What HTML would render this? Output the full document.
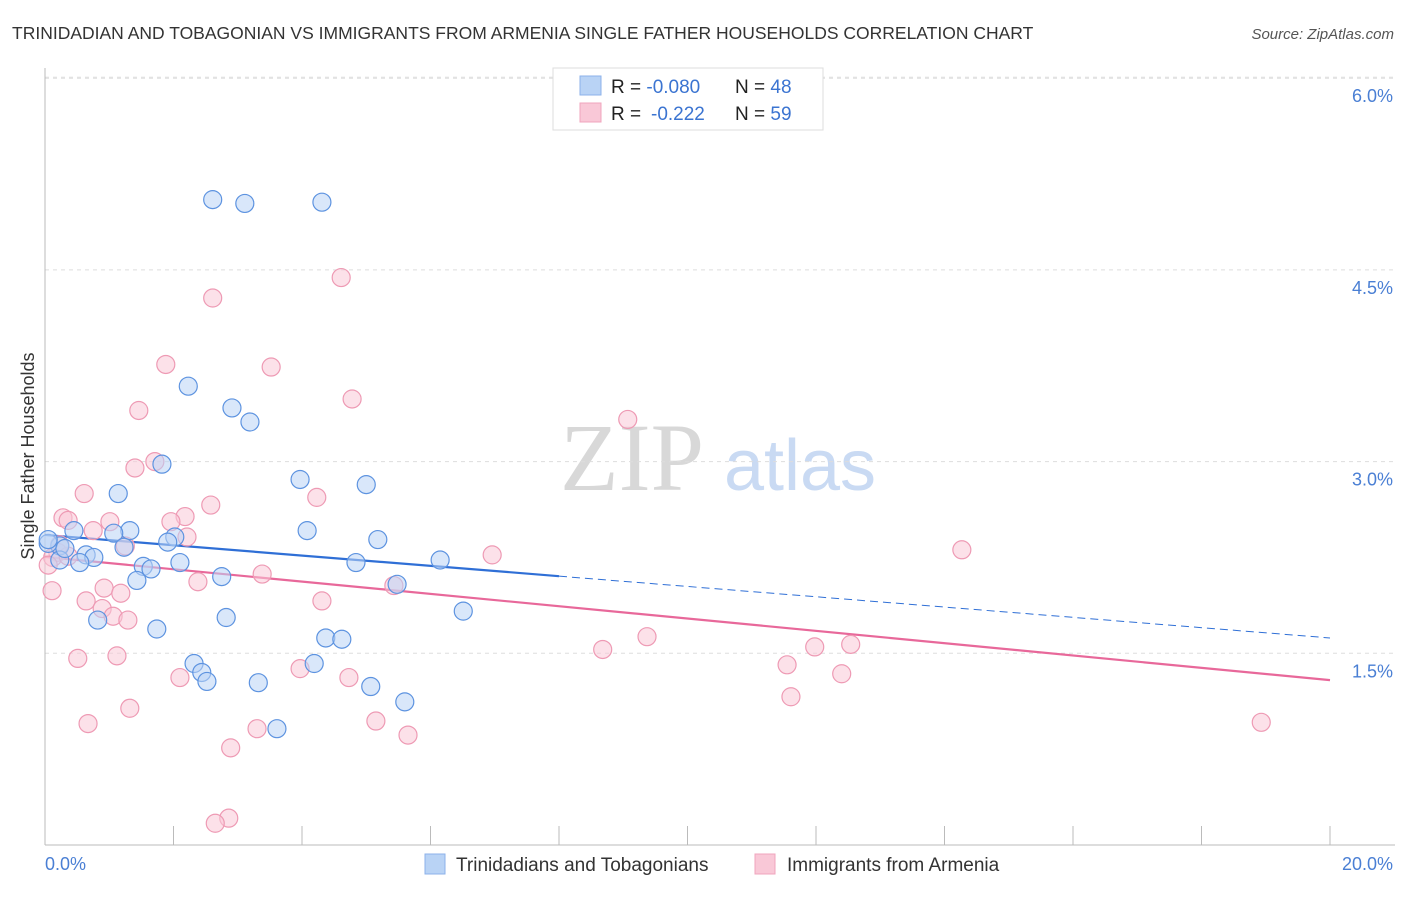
<!DOCTYPE html>
<html><head><meta charset="utf-8"><style>
body{margin:0;background:#fff;font-family:"Liberation Sans",sans-serif;}
svg text{font-family:"Liberation Sans",sans-serif;}
</style></head><body>
<svg width="1406" height="892" xmlns="http://www.w3.org/2000/svg" id="chart">
<text x="12" y="39" font-size="17.5" fill="#333">TRINIDADIAN AND TOBAGONIAN VS IMMIGRANTS FROM ARMENIA SINGLE FATHER HOUSEHOLDS CORRELATION CHART</text>
<text x="1394" y="39" font-size="15" fill="#555" font-style="italic" text-anchor="end">Source: ZipAtlas.com</text>
<g>
<text x="632" y="490" font-size="96" fill="#d8d8d8" text-anchor="middle" font-family="Liberation Serif" style="font-family:'Liberation Serif',serif">ZIP</text>
<text x="800" y="490" font-size="72" fill="#c9daf3" text-anchor="middle">atlas</text>
</g>
<g id="grid"></g>
<g id="axes"></g>
<g id="lines"></g>
<g id="pts"></g>
<text transform="translate(34,456) rotate(-90)" font-size="18" fill="#333" text-anchor="middle">Single Father Households</text>
<g>
<rect x="553" y="68" width="270" height="62" fill="#fff" stroke="#ddd"/>
<rect x="580" y="76" width="21" height="19" fill="#b9d3f5" stroke="#8cb2ea"/>
<rect x="580" y="103" width="21" height="19" fill="#f9c8d7" stroke="#f0a5bd"/>
<text x="611" y="93" font-size="19" fill="#222">R = <tspan fill="#3b74d1">-0.080</tspan><tspan x="735">N = </tspan><tspan fill="#3b74d1">48</tspan></text>
<text x="611" y="120" font-size="19" fill="#222">R = <tspan x="651" fill="#3b74d1">-0.222</tspan><tspan x="735">N = </tspan><tspan fill="#3b74d1">59</tspan></text>
</g>
<g>
<rect x="425" y="854" width="20" height="20" fill="#b9d3f5" stroke="#8cb2ea"/>
<text x="456" y="871" font-size="19" fill="#333">Trinidadians and Tobagonians</text>
<rect x="755" y="854" width="20" height="20" fill="#f9c8d7" stroke="#f0a5bd"/>
<text x="787" y="871" font-size="19" fill="#333">Immigrants from Armenia</text>
</g>
</svg>
<script>
const yTicks=[1.5,3.0,4.5,6.0];
const xTickLabels=["0.0%","20.0%"];
const blueX=[2.61,3.11,4.31,2.23,2.91,3.19,1.82,1.14,3.97,5.00,1.32,1.07,4.08,0.45,2.02,1.91,5.18,1.23,0.23,0.05,0.64,0.76,1.53,1.65,0.54,2.10,4.84,6.15,0.23,2.75,1.43,5.48,6.51,0.82,2.82,1.74,4.37,4.62,2.32,4.19,2.44,2.52,3.32,5.07,5.60,3.61,0.31,0.05];
const blueY=[5.05,5.02,5.03,3.59,3.42,3.31,2.98,2.75,2.86,2.82,2.46,2.44,2.46,2.46,2.41,2.37,2.39,2.33,2.34,2.36,2.27,2.25,2.18,2.16,2.21,2.21,2.21,2.23,2.23,2.10,2.07,2.04,1.83,1.76,1.78,1.69,1.62,1.61,1.42,1.42,1.35,1.28,1.27,1.24,1.12,0.91,2.32,2.39];
const pinkX=[4.61,2.61,1.88,3.52,1.46,4.78,9.07,1.71,1.40,0.61,4.23,2.58,0.28,2.18,1.01,0.36,1.96,0.75,2.21,1.25,6.96,14.27,0.20,0.12,0.36,3.38,2.38,0.92,5.43,0.11,0.64,4.31,1.18,0.89,1.06,1.29,9.37,11.98,12.54,8.68,0.51,1.12,11.55,3.97,2.10,4.73,12.40,11.61,1.32,5.15,0.67,3.30,5.65,18.93,2.89,2.86,2.65,0.05,0.23];
const pinkY=[4.44,4.28,3.76,3.74,3.40,3.49,3.33,3.00,2.95,2.75,2.72,2.66,2.56,2.57,2.53,2.54,2.53,2.46,2.41,2.34,2.27,2.31,2.29,2.25,2.26,2.12,2.06,2.01,2.03,1.99,1.91,1.91,1.97,1.85,1.79,1.76,1.63,1.55,1.57,1.53,1.46,1.48,1.41,1.38,1.31,1.31,1.34,1.16,1.07,0.97,0.95,0.91,0.86,0.96,0.76,0.21,0.17,2.19,2.35];
const blueTrend=[2.426,1.62];
const pinkTrend=[2.254,1.29];
const X=v=>45+v*64.25, Y=v=>845-v*127.8;
const NS="http://www.w3.org/2000/svg";
function mk(tag,attrs,parent){const e=document.createElementNS(NS,tag);for(const k in attrs)e.setAttribute(k,attrs[k]);parent.appendChild(e);return e;}
const grid=document.getElementById('grid'),axes=document.getElementById('axes'),lines=document.getElementById('lines'),pts=document.getElementById('pts');
yTicks.forEach(t=>{
 const l=mk('line',{x1:45,x2:1395,y1:Y(t),y2:Y(t),stroke:'#ddd','stroke-dasharray':'4,4'},grid);
 
 
 const tx=mk('text',{x:1393,y:Y(t)+24,'font-size':18,fill:'#4a7fd4','text-anchor':'end'},grid);
 tx.textContent=t.toFixed(1)+'%';
 
 
});
mk('line',{x1:45,x2:1395,y1:Y(6.0)-1,y2:Y(6.0)-1,stroke:'#ddd','stroke-dasharray':'4,4'},grid);
mk('line',{x1:45,x2:45,y1:68,y2:845,stroke:'#bbb'},axes);
mk('line',{x1:45,x2:1395,y1:845,y2:845,stroke:'#bbb'},axes);
for(let i=1;i<=10;i++){const t=mk('line',{x1:X(i*2),x2:X(i*2),y1:826,y2:845,stroke:'#bbb'},axes);
 
 }
const xl0=mk('text',{x:45,y:870,'font-size':18,fill:'#4a7fd4'},axes);xl0.textContent=xTickLabels[0];


const xl1=mk('text',{x:1393,y:870,'font-size':18,fill:'#4a7fd4','text-anchor':'end'},axes);xl1.textContent=xTickLabels[1];


function drawPts(xs,ys,fill,stroke,name){xs.forEach((x,i)=>{const c=mk('circle',{cx:X(x),cy:Y(ys[i]),r:9,fill:fill,'fill-opacity':0.55,stroke:stroke,'stroke-width':1.2},pts);
 
 });}
drawPts(pinkX,pinkY,'#f9c8d7','#ee9ab4','point-armenia');
drawPts(blueX,blueY,'#b9d3f5','#5d93e0','point-trinidadian');
const bAt=v=>blueTrend[0]+(blueTrend[1]-blueTrend[0])*v/20;
const bl=mk('line',{x1:X(0),y1:Y(bAt(0)),x2:X(8),y2:Y(bAt(8)),stroke:'#2f6fd6','stroke-width':2.2},lines);


const bd=mk('line',{x1:X(8),y1:Y(bAt(8)),x2:X(20),y2:Y(bAt(20)),stroke:'#2f6fd6','stroke-width':1,'stroke-dasharray':'8,5'},lines);


const pl=mk('line',{x1:X(0),y1:Y(pinkTrend[0]),x2:X(20),y2:Y(pinkTrend[1]),stroke:'#e8689a','stroke-width':2.2},lines);


</script>
</body></html>
